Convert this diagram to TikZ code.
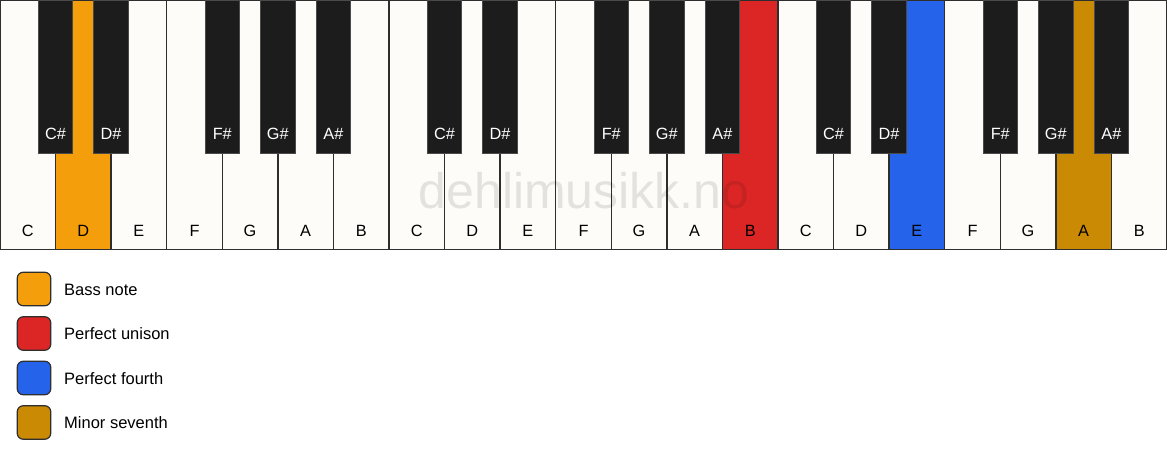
\documentclass[tikz,border=0pt]{standalone}
\usepackage{fontspec}
\setmainfont{Liberation Sans}
\definecolor{keywhite}{HTML}{FDFCF9}
\definecolor{keyblack}{HTML}{1C1C1C}
\definecolor{bass}{HTML}{F59E0B}
\definecolor{unison}{HTML}{DC2626}
\definecolor{fourth}{HTML}{2563EB}
\definecolor{seventh}{HTML}{CA8A04}
\definecolor{keyline}{HTML}{2E2E2E}
\definecolor{blackline}{HTML}{4A4A4A}
\begin{document}
\begin{tikzpicture}[x=1pt,y=-1pt,
  whitekey/.style={draw=keyline,line width=1.3pt,minimum width=55.571pt,minimum height=249.5pt,inner sep=0pt,outer sep=0pt,anchor=north west},
  blackkey/.style={draw=blackline,line width=0.8pt,fill=keyblack,minimum width=34.5pt,minimum height=153pt,inner sep=0pt,outer sep=0pt,anchor=north},
  wlabel/.style={anchor=base,font=\fontsize{16.3}{19}\selectfont,text=black,inner sep=0pt},
  blabel/.style={anchor=base,font=\fontsize{16.3}{19}\selectfont,text=white,inner sep=0pt},
  legbox/.style={draw=keyline,line width=1.2pt,rounded corners=6pt,minimum width=33.5pt,minimum height=33.5pt,inner sep=0pt},
  legtext/.style={anchor=base west,font=\fontsize{16.5}{19}\selectfont,text=black,inner sep=0pt},
  watermark/.style={anchor=base,font=\fontsize{50}{54}\selectfont,text=black,opacity=0.1,inner sep=0pt}
]
\useasboundingbox (0,0) rectangle (1167,461);
\fill[white] (0,0) rectangle (1167,461);
% white keys
\foreach \i/\n/\c in {0/C/keywhite,1/D/bass,2/E/keywhite,3/F/keywhite,4/G/keywhite,5/A/keywhite,6/B/keywhite,
  7/C/keywhite,8/D/keywhite,9/E/keywhite,10/F/keywhite,11/G/keywhite,12/A/keywhite,13/B/unison,
  14/C/keywhite,15/D/keywhite,16/E/fourth,17/F/keywhite,18/G/keywhite,19/A/seventh,20/B/keywhite}{
  \node[whitekey,fill=\c] (w\i) at (\i*55.571,0) {};
  \node[wlabel] (wl\i) at (\i*55.571+27.786,236) {\n};
}
% watermark
\node[watermark] (wm) at (584,208) {dehlimusikk.no};
% black keys
\foreach \o in {0,1,2}{
  \foreach \k/\n in {1/C\#,2/D\#,4/F\#,5/G\#,6/A\#}{
    \pgfmathsetmacro{\bx}{(\o*7+\k)*55.571}
    \node[blackkey] (b\o-\k) at (\bx,0) {};
    \node[blabel] (bl\o-\k) at (\bx,139) {\n};
  }
}
% legend
\foreach \j/\c/\t in {0/bass/Bass note,1/unison/Perfect unison,2/fourth/Perfect fourth,3/seventh/Minor seventh}{
  \node[legbox,fill=\c] (lb\j) at (34,289+\j*44.5) {};
  \node[legtext] (lt\j) at (64,295+\j*44.5) {\t};
}
\end{tikzpicture}
\end{document}
